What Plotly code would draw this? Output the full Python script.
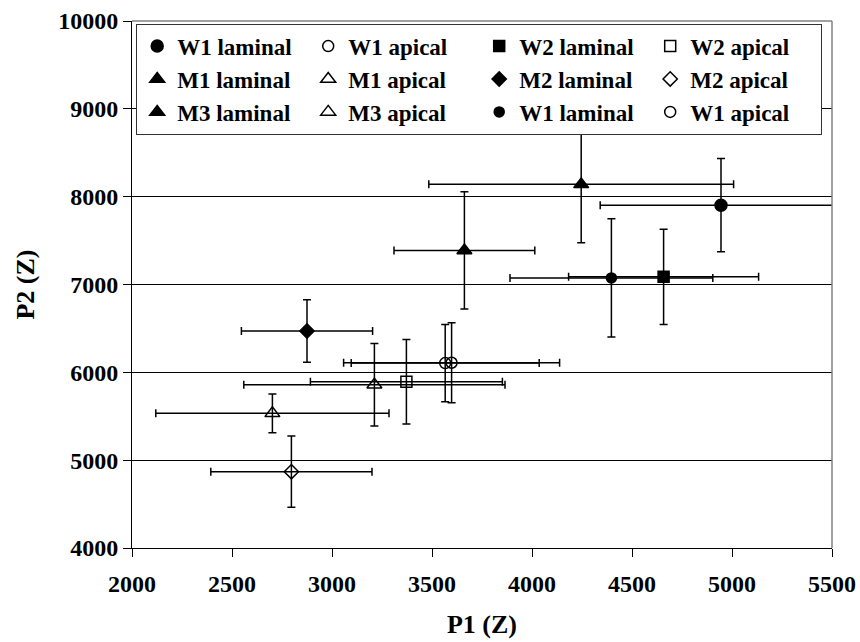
import plotly.graph_objects as go

# Series, in legend order: name, symbol, size, (P1, P2) centre, (P1, P2) error half-widths
names = ["W1 laminal", "W1 apical", "W2 laminal", "W2 apical",
         "M1 laminal", "M1 apical", "M2 laminal", "M2 apical",
         "M3 laminal", "M3 apical", "W1 laminal", "W1 apical"]
symbols = ["circle", "circle-open", "square", "square-open",
           "triangle-up", "triangle-up-open", "diamond", "diamond-open",
           "triangle-up", "triangle-up-open", "circle", "circle-open"]
sizes = [12, 11, 11, 11, 13, 13, 11, 11, 13, 13, 10, 11]

p1 = [4945, 3566, 4658, 3372, 3662, 3212, 2875, 2797, 4246, 2702, 4397, 3598]
p2 = [7903, 6105, 7088, 5893, 7388, 5859, 6470, 4869, 8140, 5533, 7075, 6109]
p1_err = [604, 470, 475, 480, 352, 653, 328, 403, 762, 583, 507, 540]
p2_err = [531, 440, 542, 480, 667, 470, 356, 406, 665, 220, 674, 455]

x_ticks = [2000, 2500, 3000, 3500, 4000, 4500, 5000, 5500]
y_ticks = [4000, 5000, 6000, 7000, 8000, 9000, 10000]

FONT = "Liberation Serif"

fig = go.Figure()
for i, name in enumerate(names):
    fig.add_trace(go.Scatter(
        x=[p1[i]], y=[p2[i]], name=name, mode="markers",
        marker=dict(symbol=symbols[i], size=sizes[i], color="black",
                    line=dict(color="black", width=1.5)),
        error_x=dict(type="data", array=[p1_err[i]], color="black",
                     thickness=1.5, width=4),
        error_y=dict(type="data", array=[p2_err[i]], color="black",
                     thickness=1.5, width=4),
        cliponaxis=False,
    ))

axis_font = dict(family=FONT, size=24, color="black", weight="bold")
title_font = dict(family=FONT, size=26, color="black", weight="bold")

fig.update_layout(
    width=860, height=642,
    margin=dict(l=132, r=28, t=21, b=94),
    paper_bgcolor="white", plot_bgcolor="white",
    showlegend=True,
    legend=dict(
        orientation="h", x=0.006, y=0.995, xanchor="left", yanchor="top",
        entrywidth=126, entrywidthmode="pixels",
        bgcolor="white", bordercolor="#333333", borderwidth=1,
        font=dict(family=FONT, size=23, color="black", weight="bold"),
        itemsizing="trace", traceorder="normal",
    ),
    xaxis=dict(
        range=[2000, 5500], tickvals=x_ticks, ticktext=[str(v) for v in x_ticks],
        ticks="outside", ticklen=8, ticklabelstandoff=6, automargin=False,
        tickcolor="black", showline=True, linecolor="black", linewidth=1,
        showgrid=False, zeroline=False, tickfont=axis_font,
        title=dict(text="P1 (Z)", font=title_font, standoff=19),
    ),
    yaxis=dict(
        range=[4000, 10000], tickvals=y_ticks, ticktext=[str(v) for v in y_ticks],
        ticks="outside", ticklen=8, automargin=False,
        tickcolor="black", showline=True, linecolor="black", linewidth=1,
        showgrid=True, gridcolor="black", gridwidth=1, zeroline=False,
        tickfont=axis_font,
        title=dict(text="P2 (Z)", font=title_font, standoff=16),
    ),
    shapes=[
        dict(type="line", xref="paper", yref="paper", x0=0, x1=1, y0=1, y1=1,
             line=dict(color="#808080", width=1.5), layer="above"),
        dict(type="line", xref="paper", yref="paper", x0=1, x1=1, y0=0, y1=1,
             line=dict(color="#808080", width=1.5), layer="above"),
    ],
)

fig.write_html("out.html")
